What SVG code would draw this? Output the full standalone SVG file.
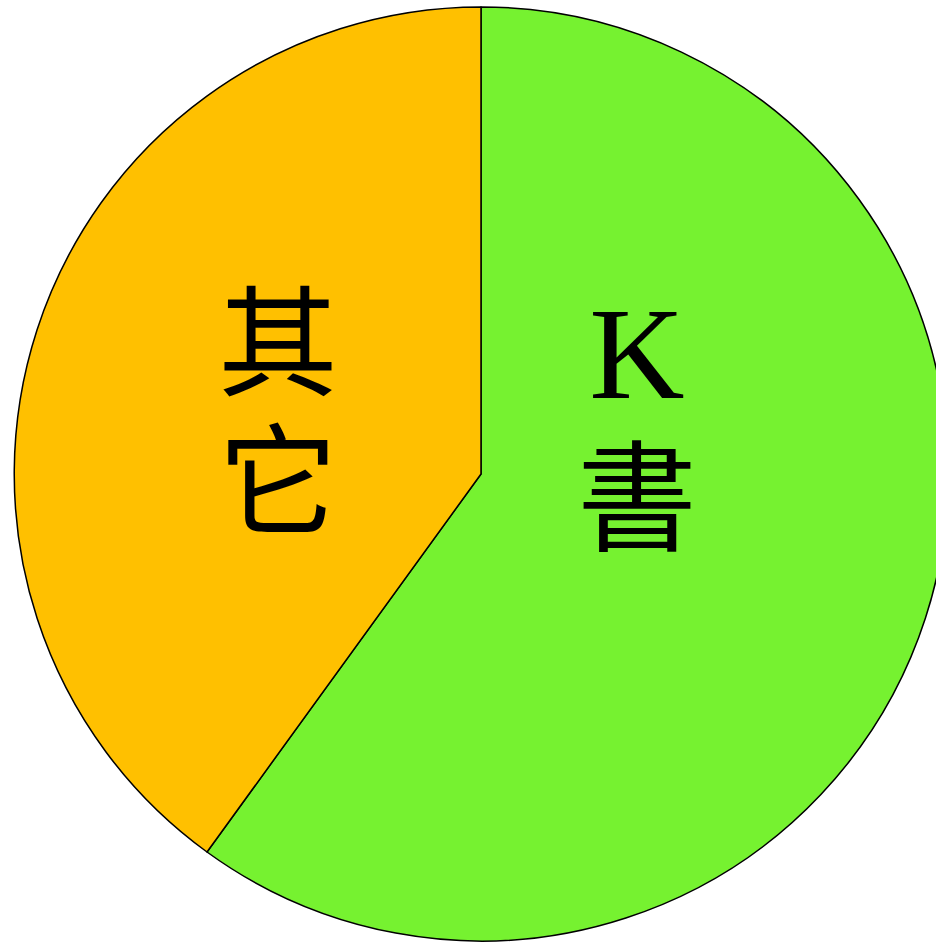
<svg xmlns="http://www.w3.org/2000/svg" width="936" height="942" viewBox="0 0 936 942">
<style>
.s{stroke:#000;stroke-width:1.5;stroke-linejoin:round}
.t{font-family:"Liberation Serif","Noto Sans CJK TC",serif;fill:#000;text-anchor:middle}
</style>
<rect width="936" height="942" fill="#fff"/>
<g id="slice-k">
<path class="s" d="M481,474 L481,7 A467,467 0 1 1 207,852 Z" fill="#76F230"/>
<text class="t" x="637" y="398" font-size="132">K</text>
<text class="t" x="637" y="542" font-size="120">書</text>
</g>
<g id="slice-other">
<path class="s" d="M481,474 L207,852 A467,467 0 0 1 481,7 Z" fill="#FFC000"/>
<text class="t" x="278" y="387" font-size="120">其</text>
<text class="t" x="278" y="525" font-size="120">它</text>
</g>
</svg>
